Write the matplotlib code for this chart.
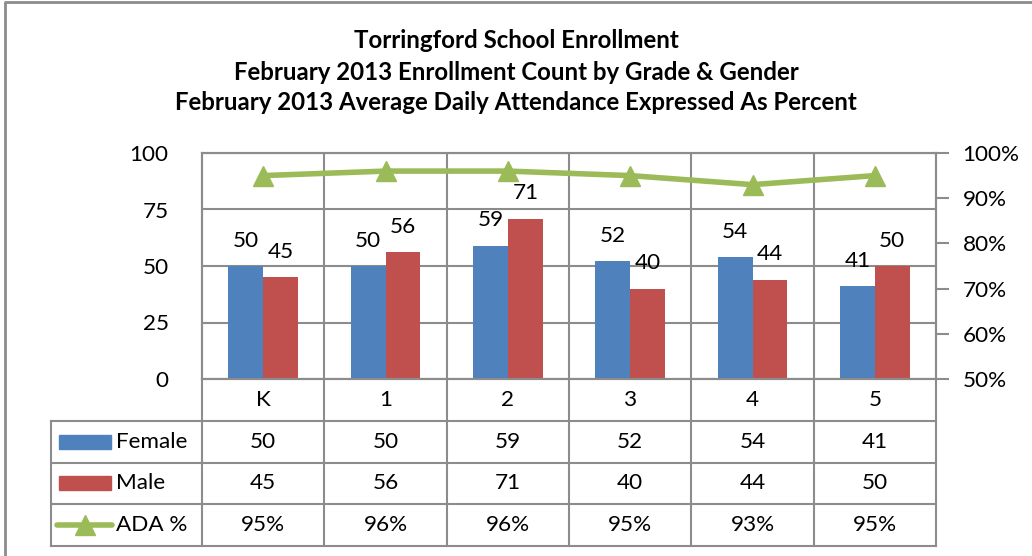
import matplotlib.pyplot as plt
import numpy as np
from matplotlib.patches import Rectangle
from matplotlib.lines import Line2D

grades = ["K", "1", "2", "3", "4", "5"]
female = [50, 50, 59, 52, 54, 41]
male = [45, 56, 71, 40, 44, 50]
ada = [95, 96, 96, 95, 93, 95]  # percent

blue = "#4F81BD"
red = "#C0504D"
green = "#9BBB59"
gridc = "#8C8C8C"
fs = 16.2

plt.rcParams['font.family'] = ['Lato', 'DejaVu Sans']

W, H = 1032, 556
fig = plt.figure(figsize=(W / 100, H / 100), dpi=100)

# pixel layout helpers
def rect(x0, y0, x1, y1):
    return [x0 / W, 1 - y1 / H, (x1 - x0) / W, (y1 - y0) / H]

px_left, px_right, px_top, px_zero = 202, 936, 153, 379
ax = fig.add_axes(rect(px_left, px_top, px_right, px_zero))
ax2 = ax.twinx()

x = np.arange(len(grades))
bw = 0.286
b1 = ax.bar(x - bw / 2, female, bw, color=blue, zorder=3)
b2 = ax.bar(x + bw / 2, male, bw, color=red, zorder=3)
for rects, vals in ((b1, female), (b2, male)):
    for r, v in zip(rects, vals):
        ax.annotate(str(v), (r.get_x() + r.get_width() / 2, v), xytext=(0, 14),
                    textcoords="offset points", ha="center", va="baseline",
                    fontsize=fs, zorder=5)

ax2.plot(x, ada, color=green, lw=4, marker="^", ms=15, zorder=4)

ax.set_xlim(-0.5, len(grades) - 0.5)
ax.set_ylim(0, 100)
ax.set_yticks([0, 25, 50, 75, 100])
ax2.set_ylim(50, 100)
ax2.set_yticks([50, 60, 70, 80, 90, 100])
ax2.set_yticklabels([f"{t}%" for t in range(50, 101, 10)])
ax.set_xticks([])
ax.yaxis.grid(True, color=gridc, lw=1.5, zorder=0)
for b in np.arange(0.5, len(grades) - 0.5):
    ax.axvline(b, color=gridc, lw=1.5, zorder=0)
for a in (ax, ax2):
    for s in a.spines.values():
        s.set_color(gridc)
        s.set_linewidth(1.5)
ax.tick_params(axis="y", length=0, labelsize=fs, pad=24)
ax2.tick_params(axis="y", length=9, width=1.5, color=gridc, labelsize=fs, pad=10)
ax2.patch.set_visible(False)

# data table below
px_tleft, px_tbot = 51, 546
tax = fig.add_axes(rect(px_tleft, px_zero, px_right, px_tbot))
colw = (px_right - px_left) / len(grades)
xl = -0.5 - (px_left - px_tleft) / colw
tax.set_xlim(xl, len(grades) - 0.5)
tax.set_ylim(4, 0)
tax.axis("off")
for i in range(1, 5):
    tax.plot([xl, len(grades) - 0.5], [i, i], color=gridc, lw=1.5, clip_on=False)
tax.plot([xl, xl], [1, 4], color=gridc, lw=1.5, clip_on=False)
for b in np.arange(-0.5, len(grades)):
    tax.plot([b, b], [0, 4], color=gridc, lw=1.5, clip_on=False)

for i, g in enumerate(grades):
    tax.text(i, 0.5, g, ha="center", va="center", fontsize=fs)
rows = [("Female", female, "{}"), ("Male", male, "{}"), ("ADA %", ada, "{}%")]
for r, (name, vals, f) in enumerate(rows, start=1):
    for i, v in enumerate(vals):
        tax.text(i, r + 0.5, f.format(v), ha="center", va="center", fontsize=fs)
    tax.text(xl + 65 / colw, r + 0.5, name, ha="left", va="center", fontsize=fs)

k0, k1 = xl + 8 / colw, xl + 60 / colw
tax.add_patch(Rectangle((k0, 1.33), k1 - k0, 0.34, color=blue))
tax.add_patch(Rectangle((k0, 2.33), k1 - k0, 0.34, color=red))
tax.plot([k0 - 2 / colw, k1 + 1 / colw], [3.5, 3.5], color=green, lw=4, solid_capstyle="round")
tax.plot([(k0 + k1) / 2], [3.5], marker="^", ms=14, color=green)

# titles
tfs = 17.3
fig.text(0.5, 1 - 40 / H, "Torringford School Enrollment", ha="center", va="center",
         fontsize=tfs, fontweight="bold")
fig.text(0.5, 1 - 72 / H, "February 2013 Enrollment Count by Grade & Gender", ha="center",
         va="center", fontsize=tfs, fontweight="bold")
fig.text(0.5, 1 - 103 / H, "February 2013 Average Daily Attendance Expressed As Percent",
         ha="center", va="center", fontsize=tfs, fontweight="bold")

# chart frame (only left and top edges visible in the crop)
fig.add_artist(Line2D([5 / W, 5 / W, 1], [0, 1 - 2 / H, 1 - 2 / H], transform=fig.transFigure,
                      color=gridc, lw=2))

fig.savefig("out.png", dpi=100)
